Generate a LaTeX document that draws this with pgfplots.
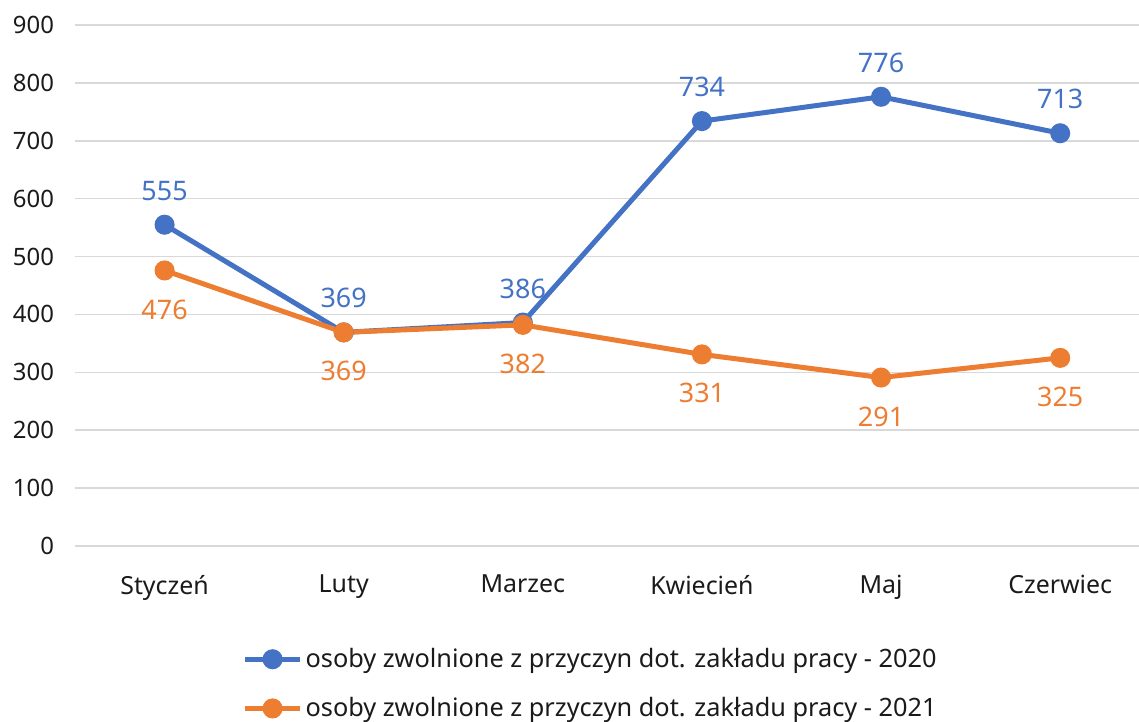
\documentclass[border=0pt]{standalone}
\usepackage{pgfplots}
\pgfplotsset{compat=1.18}
\usepackage{fontspec}
\setmainfont{Noto Sans}
\definecolor{cblue}{HTML}{4472C4}
\definecolor{corange}{HTML}{ED7D31}
\definecolor{cgrid}{HTML}{D9D9D9}
\definecolor{ctext}{HTML}{1A1A1A}
\begin{document}
\begin{tikzpicture}
\path[use as bounding box] (-37.5bp,-88bp) rectangle (532bp,273bp);
\begin{axis}[
  at={(0,0)}, anchor=south west,
  scale only axis, width=532bp, height=260.5bp,
  xmin=-0.5, xmax=5.44, ymin=0, ymax=900,
  xtick={0,1,2,3,4,5},
  xticklabels={Styczeń,Luty,Marzec,Kwiecień,Maj,Czerwiec},
  ytick={0,100,...,900},
  axis line style={draw=none},
  axis x line*=bottom,
  tick style={draw=none},
  ymajorgrids, grid style={cgrid, line width=0.8bp},
  tick label style={text=ctext},
  yticklabel style={font=\fontsize{12}{14}\selectfont, xshift=-7bp},
  xticklabel style={font=\fontsize{12.5}{14}\selectfont, yshift=-11bp},
  /pgf/number format/assume math mode=true,
  clip=false,
  legend style={at={(0.485,-0.18)}, anchor=north, draw=none, fill=none,
    font=\fontsize{12.7}{15}\selectfont, text=ctext,
    row sep=9.5bp, legend cell align=left,
    nodes={inner xsep=1.5bp}},
  legend image code/.code={\draw[#1, mark repeat=2, mark phase=2] plot coordinates {(0bp,0bp)(13.75bp,0bp)(27.5bp,0bp)};},
  nodes near coords,
  every node near coord/.append style={font=\fontsize{13.5}{16}\selectfont},
]
\addplot[cblue, line width=2.5bp, mark=*, mark size=3.75bp, mark options={solid},
  every node near coord/.append style={anchor=center, yshift=17bp, text=cblue}]
  coordinates {(0,555)(1,369)(2,386)(3,734)(4,776)(5,713)};
\addlegendentry{osoby zwolnione z przyczyn dot. zakładu pracy - 2020}
\addplot[corange, line width=2.5bp, mark=*, mark size=3.75bp, mark options={solid},
  every node near coord/.append style={anchor=center, yshift=-19.5bp, text=corange}]
  coordinates {(0,476)(1,369)(2,382)(3,331)(4,291)(5,325)};
\addlegendentry{osoby zwolnione z przyczyn dot. zakładu pracy - 2021}
\end{axis}
\end{tikzpicture}
\end{document}
